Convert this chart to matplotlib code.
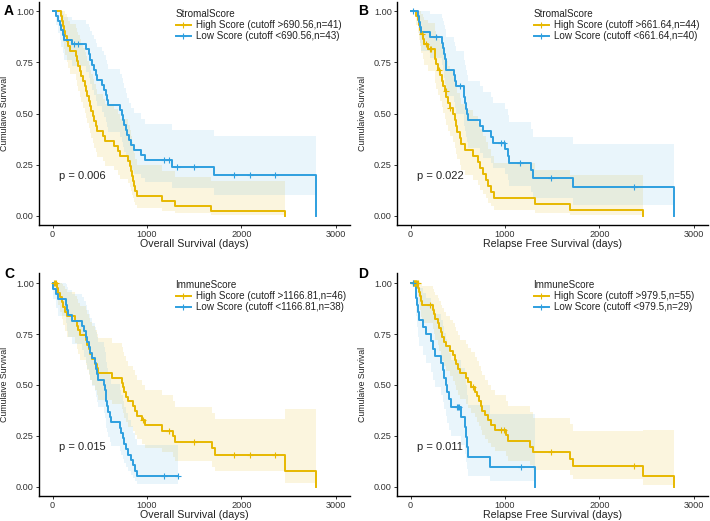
import numpy as np
import matplotlib.pyplot as plt

plt.rcParams['font.family'] = ['Liberation Sans', 'DejaVu Sans']

YELLOW = '#E7B800'
BLUE = '#2E9FDF'

# --- A: StromalScore, overall survival (days) ---
a_high_events = [88, 100, 110, 120, 135, 150, 165, 185, 250, 260, 270, 290, 300, 320, 340, 350,
                 360, 380, 395, 410, 430, 440, 455, 467, 530, 555, 645, 697, 715, 800, 815, 830,
                 845, 855, 865, 875, 890, 1157, 1300, 1677, 2465]
a_high_censor = []
a_low_events = [30, 55, 75, 90, 110, 125, 200, 355, 380, 400, 420, 440, 455, 465, 520, 545, 560,
                575, 590, 715, 730, 745, 760, 775, 790, 810, 835, 860, 935, 980, 1263, 1705, 2795, 2795]
a_low_censor = [225, 270, 1175, 1228, 1316, 1493, 1917, 2094, 2360]

# --- B: StromalScore, relapse free survival (days) ---
b_high_events = [60, 78, 85, 95, 106, 131, 140, 185, 254, 254, 270, 290, 310, 332, 343, 360, 378,
                 396, 413, 449, 466, 477, 495, 519, 537, 572, 661, 714, 731, 767, 802, 820, 855,
                 883, 1314, 1685, 2463]
b_high_censor = [115, 160, 200, 220, 300, 370, 420]
b_low_events = [75, 85, 95, 110, 200, 330, 340, 350, 360, 370, 378, 455, 470, 484, 560, 570, 580,
                590, 600, 608, 731, 767, 855, 873, 996, 1032, 1040, 1280, 1297, 1721, 2792, 2792]
b_low_censor = [25, 272, 520, 960, 986, 1162, 1491, 2367]

# --- C: ImmuneScore, overall survival (days) ---
c_high_events = [42, 60, 78, 95, 113, 131, 149, 237, 255, 272, 290, 350, 365, 380, 395, 420, 450,
                 470, 485, 626, 732, 745, 760, 775, 800, 856, 873, 891, 950, 980, 1157, 1280, 1298,
                 1687, 1723, 2465, 2795]
c_high_censor = [15, 25, 35, 962, 1235, 1493, 1917, 2094, 2360]
c_low_events = [8, 35, 60, 140, 150, 160, 202, 308, 330, 350, 365, 380, 400, 420, 445, 460, 470,
                485, 540, 550, 560, 565, 575, 590, 605, 619, 715, 725, 740, 755, 775, 800, 830,
                855, 873, 891]
c_low_censor = [1175, 1330]

# --- D: ImmuneScore, relapse free survival (days) ---
d_high_events = [80, 88, 95, 105, 120, 237, 250, 262, 290, 305, 320, 335, 350, 370, 413, 449, 465,
                 480, 500, 519, 590, 610, 643, 678, 700, 720, 740, 760, 790, 820, 850, 890, 1014,
                 1032, 1261, 1297, 1685, 1721, 2463, 2792]
d_high_censor = [20, 30, 40, 45, 50, 55, 60, 65, 75, 201, 660, 960, 986, 1491, 2367]
d_low_events = [53, 60, 70, 78, 85, 131, 166, 219, 235, 254, 325, 340, 355, 370, 390, 410, 431,
                537, 575, 590, 600, 608, 837, 1314]
d_low_censor = [20, 495, 502, 510, 1173]

panels = [
    ('A', 'StromalScore', 'Overall Survival (days)', 'p = 0.006',
     (a_high_events, a_high_censor, 'High Score (cutoff >690.56,n=41)'),
     (a_low_events, a_low_censor, 'Low Score (cutoff <690.56,n=43)')),
    ('B', 'StromalScore', 'Relapse Free Survival (days)', 'p = 0.022',
     (b_high_events, b_high_censor, 'High Score (cutoff >661.64,n=44)'),
     (b_low_events, b_low_censor, 'Low Score (cutoff <661.64,n=40)')),
    ('C', 'ImmuneScore', 'Overall Survival (days)', 'p = 0.015',
     (c_high_events, c_high_censor, 'High Score (cutoff >1166.81,n=46)'),
     (c_low_events, c_low_censor, 'Low Score (cutoff <1166.81,n=38)')),
    ('D', 'ImmuneScore', 'Relapse Free Survival (days)', 'p = 0.011',
     (d_high_events, d_high_censor, 'High Score (cutoff >979.5,n=55)'),
     (d_low_events, d_low_censor, 'Low Score (cutoff <979.5,n=29)')),
]


def km(events, censored):
    ev = np.array(events, float)
    ce = np.array(censored, float)
    n = len(ev) + len(ce)
    t_all = np.unique(np.concatenate([ev, ce]))
    ts, ss, vs = [0.0], [1.0], [0.0]
    s, v = 1.0, 0.0
    for t in t_all:
        d = np.sum(ev == t)
        c = np.sum(ce == t)
        if d > 0:
            s *= 1 - d / n
            if n > d:
                v += d / (n * (n - d))
            ts.append(t); ss.append(s); vs.append(v)
        n -= d + c
    if ts[-1] < t_all.max():
        ts.append(t_all.max()); ss.append(s); vs.append(v)
    return np.array(ts), np.array(ss), np.array(vs)


def draw_group(ax, events, censored, color, label, band_alpha):
    t, s, v = km(events, censored)
    # confidence band (log transform), stops where survival hits zero
    zero = np.where(s <= 0)[0]
    k = zero[0] if len(zero) else len(s)
    bt = t[:k]
    bs = s[:k]
    bv = v[:k]
    if len(zero):
        bt = np.append(bt, t[k])
        bs = np.append(bs, bs[-1])
        bv = np.append(bv, bv[-1])
    se = np.sqrt(bv)
    lo = bs * np.exp(-1.96 * se)
    hi = np.minimum(1.0, bs * np.exp(1.96 * se))
    ax.fill_between(bt, lo, hi, step='post', color=color, alpha=band_alpha, lw=0)
    ax.step(t, s, where='post', color=color, lw=1.4, zorder=3)
    idx = np.searchsorted(t, censored, side='right') - 1
    ax.plot(censored, s[idx], ls='none', marker='+', ms=4, mew=0.8, color=color, zorder=4)
    ax.plot([], [], color=color, lw=1.4, marker='+', ms=4, mew=0.8, label=label)


fig = plt.figure(figsize=(7.1, 5.21), dpi=100)
positions = [
    (39 / 710, 1 - 225 / 521, 311 / 710, 223 / 521),
    (397 / 710, 1 - 225 / 521, 311 / 710, 223 / 521),
    (39 / 710, 1 - 496 / 521, 311 / 710, 223 / 521),
    (397 / 710, 1 - 496 / 521, 311 / 710, 223 / 521),
]
ylims = [(-0.044, 1.044), (-0.044, 1.044), (-0.046, 1.05), (-0.046, 1.05)]
letter_y = [1 - 4 / 521, 1 - 4 / 521, 1 - 267 / 521, 1 - 267 / 521]
letter_x = [4 / 710, 358 / 710, 4 / 710, 358 / 710]

for i, (letter, title, xlab, ptxt, high, low) in enumerate(panels):
    ax = fig.add_axes(positions[i])
    draw_group(ax, high[0], high[1], YELLOW, high[2], 0.13)
    draw_group(ax, low[0], low[1], BLUE, low[2], 0.10)
    ax.set_xlim(-145, 3150)
    ax.set_ylim(*ylims[i])
    ax.set_xticks([0, 1000, 2000, 3000])
    ax.set_yticks([0, 0.25, 0.5, 0.75, 1.0])
    ax.set_yticklabels(['0.00', '0.25', '0.50', '0.75', '1.00'])
    ax.spines['top'].set_visible(False)
    ax.spines['right'].set_visible(False)
    ax.spines['left'].set_linewidth(1.0)
    ax.spines['bottom'].set_linewidth(1.0)
    ax.tick_params(labelsize=6.6, length=2.5, width=0.7, pad=1.2, colors='#333333')
    ax.set_xlabel(xlab, fontsize=7.7, labelpad=0, color='#222222')
    ax.set_ylabel('Cumulaive Survival', fontsize=6.3, color='#222222')
    ax.yaxis.set_label_coords(-0.095, 0.5)
    ax.text(65, 0.195, ptxt, fontsize=8, ha='left', va='center', color='#222222')
    leg = ax.legend(title=title, loc='upper left', bbox_to_anchor=(0.42, 0.995), frameon=False,
                    prop={'size': 7.1}, title_fontsize=7.1, handlelength=1.6, handletextpad=0.5,
                    labelspacing=0.12, alignment='left', borderaxespad=0.2)
    for txt in leg.get_texts():
        txt.set_color('#222222')
    leg.get_title().set_color('#222222')
    fig.text(letter_x[i], letter_y[i], letter, fontsize=10, fontweight='bold', va='top', ha='left')

fig.savefig('out.png', dpi=100)
